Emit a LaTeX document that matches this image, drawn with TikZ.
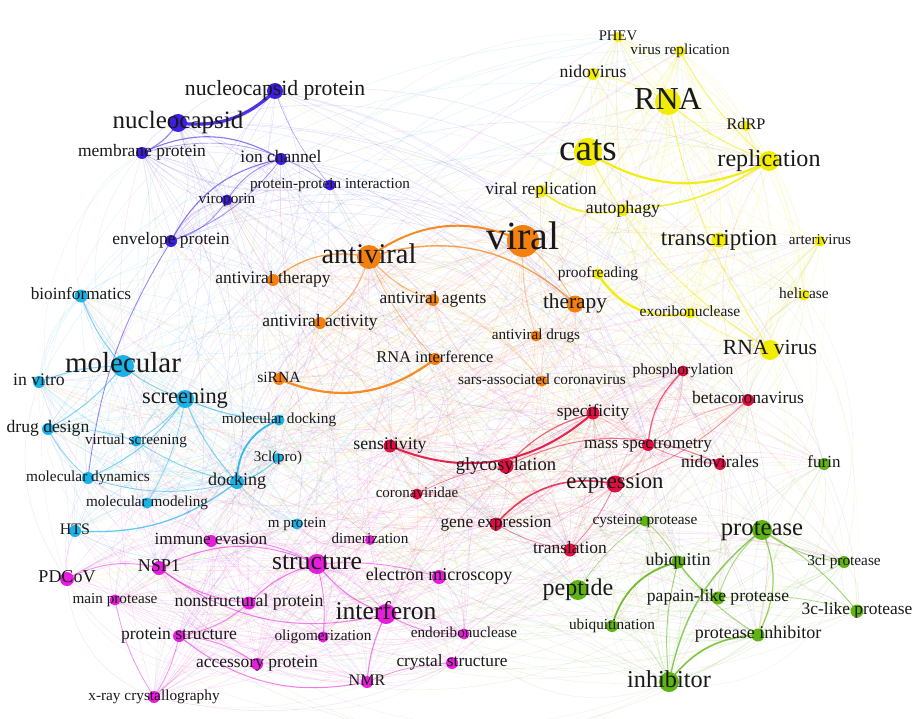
\documentclass[tikz,border=0pt]{standalone}
\usepackage{fontspec}
\setmainfont{Liberation Serif}
\pgfdeclarelayer{edges}
\pgfdeclarelayer{labels}
\pgfsetlayers{edges,main,labels}
\definecolor{cB}{RGB}{60,30,226}
\definecolor{cC}{RGB}{27,178,232}
\definecolor{cM}{RGB}{230,30,220}
\definecolor{cO}{RGB}{245,128,15}
\definecolor{cY}{RGB}{242,236,0}
\definecolor{cR}{RGB}{225,15,65}
\definecolor{cG}{RGB}{95,180,20}
\newcounter{kwc}
\tikzset{
  dot/.style={circle,inner sep=0pt,draw=none},
  lab/.style={inner sep=0pt,text=black!90},
  faint/.style={line width=0.4pt,draw opacity=0.15},
  strongedge/.style={draw opacity=0.85}
}
\newcommand\kw[7]{%
  \stepcounter{kwc}%
  \node[dot,fill=#5,minimum size=#4*2pt] (#1) at (#2,#3) {};%
  \edef\kwidx{k\the\value{kwc}}%
  \pgfnodealias{\kwidx}{#1}%
  \expandafter\xdef\csname kcol\the\value{kwc}\endcsname{#5}%
  \begin{pgfonlayer}{labels}%
    \node[lab,anchor=base,font=\fontsize{#6}{#6}\selectfont] (#1-t) at ({#2},{#3+0.22*#6}) {#7};%
  \end{pgfonlayer}%
}
\begin{document}
\begin{tikzpicture}[x=1pt,y=-1pt]
\useasboundingbox (0,0) rectangle (917,719);
% blue
\kw{nucleocapsid}{178}{123}{9}{cB}{25}{nucleocapsid}
\kw{ncprotein}{275}{91}{8}{cB}{21.7}{nucleocapsid protein}
\kw{membrane}{142}{153}{6}{cB}{17.5}{membrane protein}
\kw{ionchannel}{281}{159}{6}{cB}{17.5}{ion channel}
\kw{ppi}{330}{185}{5.5}{cB}{15.2}{protein-protein interaction}
\kw{viroporin}{227}{200}{5.5}{cB}{15.2}{viroporin}
\kw{envelope}{171}{241}{6}{cB}{17.5}{envelope protein}
% cyan
\kw{bioinformatics}{81}{296}{6.5}{cC}{17.2}{bioinformatics}
\kw{molecular}{123}{366}{11}{cC}{29}{molecular}
\kw{invitro}{39}{382}{6}{cC}{17.7}{in vitro}
\kw{screening}{185}{399}{9}{cC}{22.4}{screening}
\kw{drugdesign}{48}{429}{6}{cC}{17.6}{drug design}
\kw{moldocking}{279}{420}{5.5}{cC}{15.3}{molecular docking}
\kw{virtualscreening}{136}{441}{5.5}{cC}{15.2}{virtual screening}
\kw{tcl}{278}{458}{5}{cC}{15}{3cl(pro)}
\kw{moldynamics}{88}{478}{6}{cC}{15.3}{molecular dynamics}
\kw{docking}{237}{482}{7}{cC}{18}{docking}
\kw{molmodeling}{147}{503}{5.5}{cC}{15.2}{molecular modeling}
\kw{hts}{75}{531}{6}{cC}{16}{HTS}
\kw{mprotein}{297}{524}{5.5}{cC}{15.1}{m protein}
% magenta
\kw{immune}{211}{541}{6}{cM}{17.1}{immune evasion}
\kw{dimerization}{370}{540}{5}{cM}{15.2}{dimerization}
\kw{structure}{317}{564}{10}{cM}{25.7}{structure}
\kw{nsp1}{159}{568}{7}{cM}{18}{NSP1}
\kw{pdcov}{67}{579}{7}{cM}{18}{PDCoV}
\kw{electron}{439}{577}{7}{cM}{18}{electron microscopy}
\kw{mainprotease}{115}{600}{5.5}{cM}{15.2}{main protease}
\kw{nonstructural}{249}{603}{6.5}{cM}{17.8}{nonstructural protein}
\kw{interferon}{386}{614}{10}{cM}{25.6}{interferon}
\kw{proteinstructure}{179}{636}{6}{cM}{17.6}{protein structure}
\kw{oligomerization}{323}{637}{5.5}{cM}{15.3}{oligomerization}
\kw{endoribonuclease}{464}{634}{5.5}{cM}{15.2}{endoribonuclease}
\kw{crystal}{452}{663}{6}{cM}{17.3}{crystal structure}
\kw{accessory}{257}{664}{6}{cM}{17.5}{accessory protein}
\kw{nmr}{367}{682}{6}{cM}{16.1}{NMR}
\kw{xray}{154}{697}{6}{cM}{15.3}{x-ray crystallography}
% orange
\kw{viral}{523}{241}{16}{cO}{40}{viral}
\kw{antiviral}{369}{257}{12}{cO}{28.5}{antiviral}
\kw{antiviraltherapy}{273}{280}{6}{cO}{17.5}{antiviral therapy}
\kw{antiviralagents}{433}{300}{6}{cO}{17.4}{antiviral agents}
\kw{therapy}{575}{304}{8.5}{cO}{21.3}{therapy}
\kw{antiviralactivity}{320}{323}{6}{cO}{17.5}{antiviral activity}
\kw{antiviraldrugs}{536}{336}{5.5}{cO}{15.2}{antiviral drugs}
\kw{rnai}{435}{359}{6}{cO}{16.4}{RNA interference}
\kw{sirna}{279}{379}{6}{cO}{15.6}{siRNA}
\kw{sars}{542}{381}{5.5}{cO}{15.3}{sars-associated coronavirus}
% yellow
\kw{phev}{618}{37}{5}{cY}{14.7}{PHEV}
\kw{virusreplication}{680}{51}{5.5}{cY}{15.2}{virus replication}
\kw{nidovirus}{593}{74}{6}{cY}{17.7}{nidovirus}
\kw{rna}{668}{102}{13}{cY}{32}{RNA}
\kw{rdrp}{746}{126}{5}{cY}{16.2}{RdRP}
\kw{cats}{588}{152}{14}{cY}{37}{cats}
\kw{replication}{769}{161}{10}{cY}{24.1}{replication}
\kw{viralreplication}{541}{191}{6}{cY}{17.5}{viral replication}
\kw{autophagy}{623}{210}{6}{cY}{17.8}{autophagy}
\kw{transcription}{719}{240}{7.5}{cY}{23}{transcription}
\kw{arterivirus}{820}{241}{5.5}{cY}{15.1}{arterivirus}
\kw{proofreading}{598}{274}{5.5}{cY}{15.5}{proofreading}
\kw{helicase}{804}{295}{5.5}{cY}{15.4}{helicase}
\kw{exoribonuclease}{690}{313}{5.5}{cY}{15.5}{exoribonuclease}
\kw{rnavirus}{770}{350}{10}{cY}{21.6}{RNA virus}
% red
\kw{phosphorylation}{683}{371}{5.5}{cR}{15.5}{phosphorylation}
\kw{betacoronavirus}{748}{400}{6}{cR}{17.5}{betacoronavirus}
\kw{specificity}{593}{413}{6.5}{cR}{17.4}{specificity}
\kw{sensitivity}{390}{446}{6.5}{cR}{17.8}{sensitivity}
\kw{massspec}{648}{445}{6}{cR}{17.1}{mass spectrometry}
\kw{glycosylation}{506}{466}{7.5}{cR}{18.6}{glycosylation}
\kw{nidovirales}{720}{464}{6}{cR}{17.5}{nidovirales}
\kw{coronaviridae}{417}{494}{5.5}{cR}{15}{coronaviridae}
\kw{expression}{615}{484}{8.5}{cR}{22.7}{expression}
\kw{geneexpression}{496}{524}{6.5}{cR}{17.3}{gene expression}
\kw{translation}{570}{550}{6.5}{cR}{17.5}{translation}
% green
\kw{furin}{824}{464}{6}{cG}{17}{furin}
\kw{cysteine}{645}{521}{5.5}{cG}{15.3}{cysteine protease}
\kw{protease}{762}{530}{10}{cG}{24.7}{protease}
\kw{ubiquitin}{678}{562}{6.5}{cG}{18}{ubiquitin}
\kw{tclprotease}{844}{562}{6}{cG}{15.3}{3cl protease}
\kw{peptide}{578}{590}{10}{cG}{24}{peptide}
\kw{papain}{718}{598}{6.5}{cG}{17.6}{papain-like protease}
\kw{tclike}{857}{611}{6.5}{cG}{17.4}{3c-like protease}
\kw{ubiquitination}{612}{626}{6}{cG}{15.3}{ubiquitination}
\kw{proteaseinhibitor}{758}{635}{6.5}{cG}{18}{protease inhibitor}
\kw{inhibitor}{669}{682}{10}{cG}{24.3}{inhibitor}

\begin{pgfonlayer}{edges}
\fill[white] (0,0) rectangle (917,719);
\clip (0,0) rectangle (917,719);
\pgfmathsetseed{2024}
% faint links across the whole map
\foreach \i in {1,...,560} {
  \pgfmathtruncatemacro\a{random(1,83)}
  \pgfmathtruncatemacro\b{random(1,83)}
  \pgfmathtruncatemacro\bd{random(12,40)}
  \ifnum\a=\b\relax\else
    \edef\ec{\csname kcol\a\endcsname}
    \draw[faint,draw=\ec] (k\a.center) to[bend left=\bd] (k\b.center);
  \fi
}
% pale grey halo of long links
\foreach \i in {1,...,160} {
  \pgfmathtruncatemacro\a{random(1,83)}
  \pgfmathtruncatemacro\b{random(1,83)}
  \pgfmathtruncatemacro\bd{random(35,50)}
  \ifnum\a=\b\relax\else
    \draw[faint,draw opacity=0.12,draw=black!45] (k\a.center) to[bend left=\bd] (k\b.center);
  \fi
}
% faint links inside clusters
\foreach \lo/\hi/\n in {1/7/30,8/20/70,21/36/80,37/46/50,47/61/75,62/72/65,73/83/60} {
  \foreach \i in {1,...,\n} {
    \pgfmathtruncatemacro\a{random(\lo,\hi)}
    \pgfmathtruncatemacro\b{random(\lo,\hi)}
    \pgfmathtruncatemacro\bd{random(10,30)}
    \ifnum\a=\b\relax\else
      \edef\ec{\csname kcol\a\endcsname}
      \draw[faint,draw opacity=0.17,draw=\ec] (k\a.center) to[bend left=\bd] (k\b.center);
    \fi
  }
}
% strong links
\foreach \a/\b/\bd/\w/\c in {
 nucleocapsid/ncprotein/-25/3.2/cB, membrane/ionchannel/28/1.1/cB,
 nucleocapsid/membrane/15/1.0/cB, ionchannel/envelope/-25/1.1/cB,
 ionchannel/envelope/15/0.8/cB, ionchannel/viroporin/-20/0.8/cB,
 viroporin/envelope/20/0.8/cB, envelope/moldynamics/-12/0.9/cB,
 membrane/ppi/25/0.7/cB, ncprotein/ppi/-10/0.6/cB,
 docking/moldocking/35/1.8/cC, screening/moldocking/-10/1.1/cC,
 screening/docking/-10/1.0/cC, screening/moldynamics/15/1.0/cC,
 screening/virtualscreening/10/0.9/cC, molecular/screening/-10/1.0/cC,
 molecular/drugdesign/10/1.0/cC, molecular/invitro/-10/0.9/cC,
 bioinformatics/molecular/-10/1.0/cC, drugdesign/moldynamics/-10/0.9/cC,
 virtualscreening/docking/-10/0.9/cC, moldynamics/docking/-15/0.9/cC,
 hts/docking/-20/1.3/cC, docking/tcl/-15/1.1/cC,
 drugdesign/virtualscreening/10/0.8/cC, screening/molmodeling/10/0.8/cC,
 nsp1/structure/25/1.0/cM, structure/interferon/-15/1.0/cM,
 structure/nonstructural/-15/1.0/cM, nsp1/nonstructural/-15/1.0/cM,
 nonstructural/proteinstructure/15/0.9/cM, structure/oligomerization/10/0.9/cM,
 interferon/nmr/-10/1.0/cM, accessory/proteinstructure/-15/0.9/cM,
 nsp1/interferon/-25/1.0/cM, immune/structure/15/0.8/cM,
 pdcov/nsp1/20/0.9/cM, proteinstructure/nmr/-25/1.0/cM,
 interferon/endoribonuclease/-15/0.9/cM, crystal/nmr/-10/0.8/cM,
 structure/electron/10/0.9/cM, xray/mainprotease/10/0.8/cM,
 xray/proteinstructure/-10/0.8/cM,
 antiviral/viral/30/2.0/cO, antiviral/therapy/30/1.4/cO,
 antiviraltherapy/antiviral/25/1.3/cO, antiviral/antiviralactivity/20/1.0/cO,
 antiviral/antiviralagents/-15/1.0/cO, sirna/rnai/-30/2.2/cO,
 viral/therapy/10/0.8/cO, antiviral/rnai/-10/0.8/cO,
 viral/antiviraldrugs/-10/0.7/cO,
 cats/replication/-30/2.2/cY, viralreplication/autophagy/-25/1.6/cY,
 autophagy/replication/-15/1.6/cY, proofreading/exoribonuclease/-35/2.4/cY,
 rna/replication/-10/1.1/cY, nidovirus/rna/10/0.8/cY,
 virusreplication/replication/-10/1.0/cY, rna/rnavirus/-10/0.9/cY,
 cats/rnavirus/-15/0.9/cY, phev/rna/-10/0.6/cY,
 exoribonuclease/rnavirus/-10/0.8/cY,
 sensitivity/specificity/-32/2.0/cR, glycosylation/specificity/15/1.2/cR,
 geneexpression/expression/30/1.6/cR, phosphorylation/massspec/-20/1.2/cR,
 glycosylation/nidovirales/25/1.0/cR, betacoronavirus/expression/10/0.8/cR,
 glycosylation/coronaviridae/-10/0.8/cR, translation/expression/-10/0.8/cR,
 geneexpression/translation/-10/0.8/cR, massspec/nidovirales/-10/0.8/cR,
 ubiquitin/ubiquitination/-30/1.8/cG, protease/inhibitor/-20/1.3/cG,
 inhibitor/proteaseinhibitor/25/1.6/cG, protease/proteaseinhibitor/25/1.2/cG,
 ubiquitin/papain/-15/1.0/cG, ubiquitin/proteaseinhibitor/-10/1.0/cG,
 papain/protease/15/0.9/cG, protease/tclprotease/-15/1.0/cG,
 protease/tclike/10/1.0/cG, cysteine/ubiquitin/10/0.9/cG,
 cysteine/peptide/-10/0.8/cG, papain/tclike/10/0.8/cG,
 ubiquitin/inhibitor/-10/1.0/cG} {
  \pgfmathsetmacro\op{min(0.9,0.15+0.4*\w)}
  \draw[strongedge,line width=\w pt,draw=\c,draw opacity=\op] (\a.center) to[bend left=\bd] (\b.center);
}
\end{pgfonlayer}
\end{tikzpicture}
\end{document}
